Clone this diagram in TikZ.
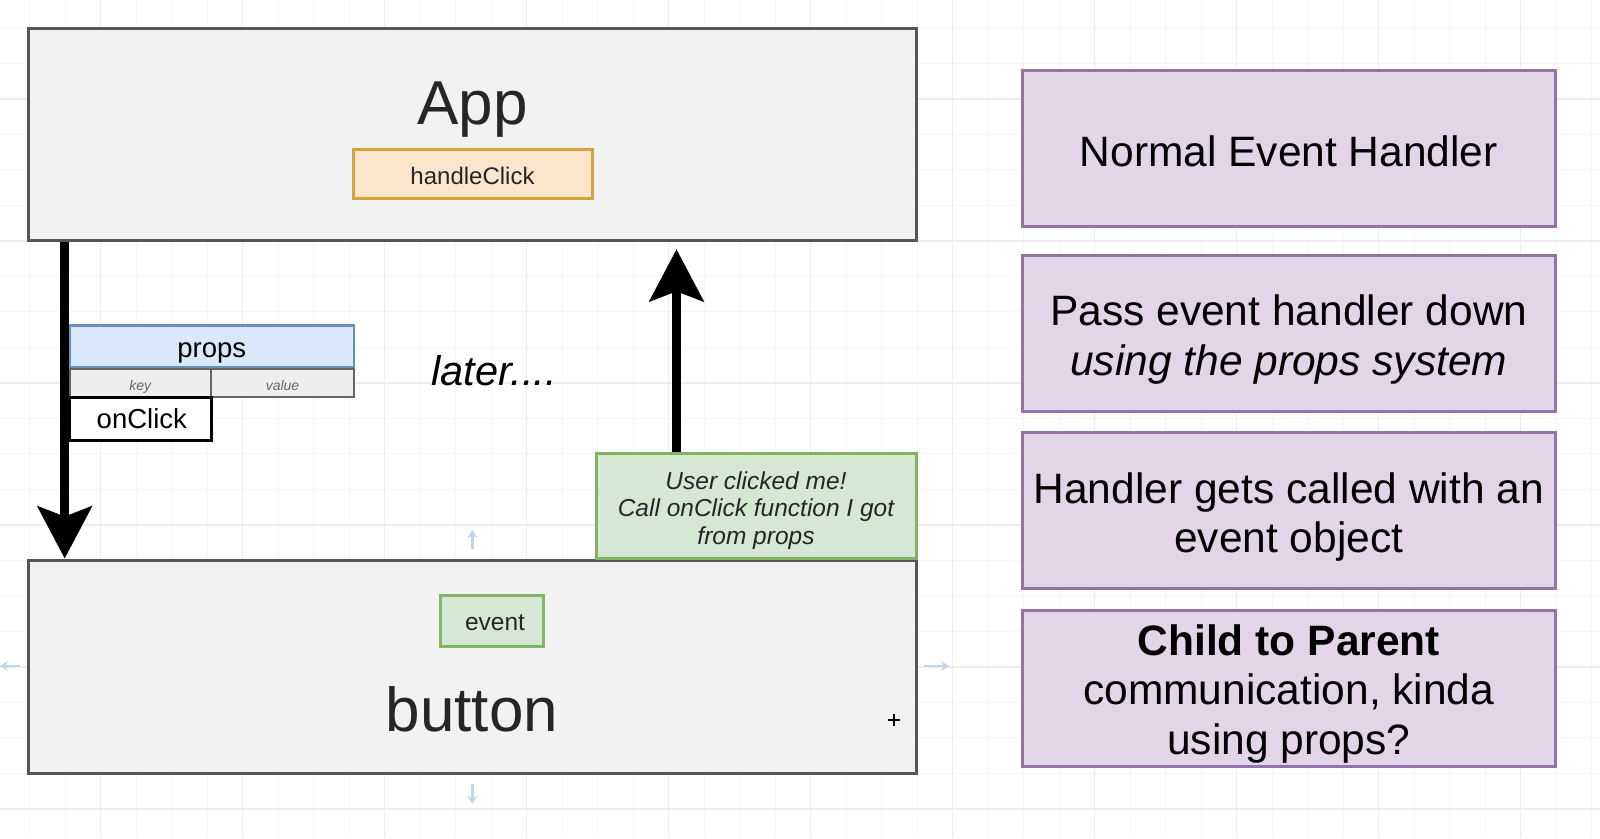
\documentclass[tikz,border=0pt]{standalone}
\usepackage{fontspec}
\setmainfont{Liberation Sans}
\usetikzlibrary{arrows.meta}

\definecolor{gridminor}{HTML}{F6F6F6}
\definecolor{gridmajor}{HTML}{EDEDED}
\definecolor{boxfill}{HTML}{F2F2F2}
\definecolor{boxline}{HTML}{555555}
\definecolor{orangefill}{HTML}{FCE5CD}
\definecolor{orangeline}{HTML}{D6A23C}
\definecolor{bluefill}{HTML}{DAE8FC}
\definecolor{blueline}{HTML}{6C8EBF}
\definecolor{kvfill}{HTML}{EEEEEE}
\definecolor{kvline}{HTML}{666666}
\definecolor{greenfill}{HTML}{D5E8D4}
\definecolor{greenline}{HTML}{82B366}
\definecolor{purplefill}{HTML}{E1D5E7}
\definecolor{purpleline}{HTML}{9673A6}
\definecolor{hoverblue}{HTML}{BCD6F0}
\definecolor{darktext}{HTML}{262626}

\newcommand{\fs}[2]{\fontsize{#1}{#2}\selectfont}

\begin{document}
\begin{tikzpicture}[x=1pt,y=-1pt,
  graybox/.style={draw=boxline, fill=boxfill, line width=3pt, inner sep=0pt},
  orangebox/.style={draw=orangeline, fill=orangefill, line width=3pt, inner sep=0pt},
  bluebox/.style={draw=blueline, fill=bluefill, line width=2.5pt, inner sep=0pt},
  kvbox/.style={draw=kvline, fill=kvfill, line width=2.5pt, inner sep=0pt},
  whitebox/.style={draw=black, fill=white, line width=3pt, inner sep=0pt},
  greenbox/.style={draw=greenline, fill=greenfill, line width=3pt, inner sep=0pt},
  purplebox/.style={draw=purpleline, fill=purplefill, line width=3pt, inner sep=0pt,
    minimum width=532.5pt, minimum height=156pt},
  boxtext/.style={align=center, inner sep=0pt, font=\fs{42.5}{49.5}},
  bigarrow/.style={line width=9pt, -{Stealth[length=52pt,width=54pt,inset=10pt]}},
  hover/.style={draw=hoverblue, line width=2.2pt, -{Stealth[length=8pt,width=10pt]}}
]
\useasboundingbox (0,0) rectangle (1600,838);
\fill[white] (0,0) rectangle (1600,838);

% background grid
\foreach \gx in {29.7,65.2,...,1600} \draw[gridminor, line width=1pt] (\gx,0) -- (\gx,838);
\foreach \gy in {27.9,63.4,...,838} \draw[gridminor, line width=1pt] (0,\gy) -- (1600,\gy);
\foreach \gx in {100.7,242.7,...,1600} \draw[gridmajor, line width=1.2pt] (\gx,0) -- (\gx,838);
\foreach \gy in {98.9,240.9,...,838} \draw[gridmajor, line width=1.2pt] (0,\gy) -- (1600,\gy);

% parent component
\node[graybox, minimum width=887.7pt, minimum height=212.2pt] (app) at (472.45,134.7) {};
\node[anchor=base, inner sep=0pt, text=darktext, font=\fs{62}{74}] (applabel) at (472.4,124.5) {App};
\node[orangebox, minimum width=239pt, minimum height=49pt] (handle) at (472.5,173.5) {};
\node[anchor=base, inner sep=0pt, text=darktext, font=\fs{24}{29}] (handlelabel) at (472.5,184.7) {handleClick};

% child component
\node[graybox, minimum width=887.7pt, minimum height=213pt] (button) at (472.45,666.5) {};
\node[greenbox, minimum width=103pt, minimum height=51pt] (event) at (492.4,620.5) {};
\node[anchor=base, inner sep=0pt, text=darktext, font=\fs{24.5}{29}] (eventlabel) at (495,630.6) {event};
\node[anchor=base, inner sep=0pt, text=darktext, font=\fs{62}{74}] (buttonlabel) at (472,731) {button};

% props table
\node[bluebox, minimum width=284.7pt, minimum height=41.6pt] (props) at (211.7,346.5) {};
\node[anchor=base, inner sep=0pt, font=\fs{27.5}{33}] (propslabel) at (211.7,357) {props};
\node[kvbox, minimum width=141.7pt, minimum height=28pt] (key) at (140.2,383) {};
\node[kvbox, minimum width=143pt, minimum height=28pt] (value) at (282.5,383) {};
\node[anchor=base, inner sep=0pt, text=kvline, font=\fs{14}{17}\itshape] (keylabel) at (140.2,390) {key};
\node[anchor=base, inner sep=0pt, text=kvline, font=\fs{14}{17}\itshape] (valuelabel) at (282.5,390) {value};
\node[whitebox, minimum width=141.7pt, minimum height=42.3pt] (onclick) at (140.2,418.9) {};
\node[anchor=base, inner sep=0pt, font=\fs{27.5}{33}] (onclicklabel) at (141.8,428.3) {onClick};

% note on the child
\node[greenbox, minimum width=320pt, minimum height=105pt] (note) at (756,505.8) {};
\node[align=center, inner sep=0pt, font=\fs{24.5}{27.5}\itshape, text=darktext] (notetext) at (756,511)
  {\strut User clicked me!\\\strut Call onClick function I got\\\strut from props};

\node[anchor=base, inner sep=0pt, font=\fs{41.5}{49}\itshape] (later) at (494,385) {later....};

% data flow arrows
\coordinate (downx) at (64.7,0);
\coordinate (upx) at (676.5,0);
\draw[bigarrow] (app.south -| downx) -- (button.north -| downx);
\draw[bigarrow, shorten >=7pt] (note.north -| upx) -- (app.south -| upx);

% hover hints around the child
\draw[hover] (472.4,549) -- (472.4,530);
\draw[hover] (472.4,784) -- (472.4,804);
\draw[hover] (20,666) -- (0,666);
\draw[hover] (924,666) -- (949,666);
\draw[line width=1.8pt] (888,720) -- (900,720) (894,714) -- (894,726);

% summary column
\node[purplebox] (step1) at (1288.8,148.2) {};
\node[purplebox] (step2) at (1288.8,333) {};
\node[purplebox] (step3) at (1288.8,510.8) {};
\node[purplebox] (step4) at (1288.8,688) {};
\node[boxtext] (step1text) at (1288.8,156.6) {\strut Normal Event Handler};
\node[boxtext] (step2text) at (1288.8,340.8) {\strut Pass event handler down\\\strut\itshape using the props system};
\node[boxtext] (step3text) at (1288.8,518) {\strut Handler gets called with an\\\strut event object};
\node[boxtext] (step4text) at (1288.8,694.9) {\strut\bfseries Child to Parent\\\strut communication, kinda\\\strut using props?};
\end{tikzpicture}
\end{document}
